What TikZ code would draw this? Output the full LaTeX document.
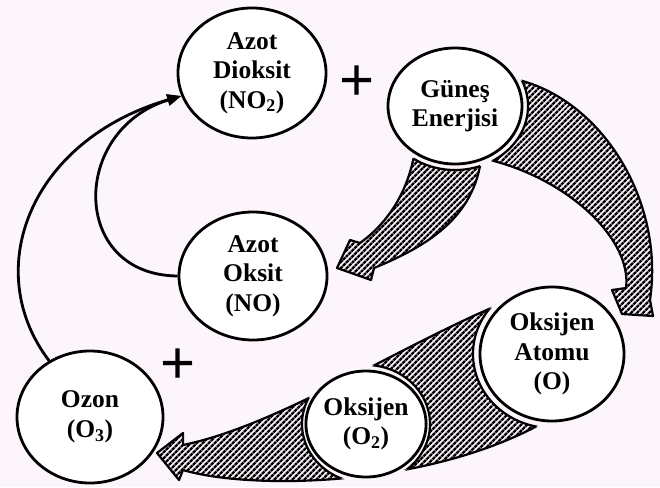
\documentclass[tikz,border=0pt]{standalone}
\usepackage{fontspec}
\setmainfont{Liberation Serif}
\newfontfamily\plusfont{Liberation Sans}
\usetikzlibrary{
	shapes.geometric,
	arrows.meta,
	patterns.meta
}
\definecolor{paper}{RGB}{252,245,252}
\pgfdeclarelayer{back}
\pgfsetlayers{back,main}

\newcommand\sunnoarrow{(gunes.center) -- (415,150) .. controls (408,195) and (385,225) .. (360,243) -- (350,240) -- (337,268) -- (371,280) -- (374,268) .. controls (430,245) and (478,215) .. (482,150) -- cycle}
\newcommand\sunoarrow{(gunes.center) -- (510,78) .. controls (600,95) and (665,200) .. (650,300) -- (653,316) -- (622,314) -- (612,290) -- (626,288) .. controls (632,240) and (570,180) .. (490,160) -- cycle}
\newcommand\oozonarrow{(oatom.center) -- (510,300) .. controls (400,345) and (280,425) .. (183,445) -- (183,433) -- (157,453) -- (179,480) -- (183,470) .. controls (250,490) and (430,488) .. (548,420) -- cycle}

\tikzset{
	molecule/.style={draw,ellipse,fill=white,line width=2.8pt,inner sep=0pt,align=center,
		font=\fontsize{25.5}{29.5}\selectfont\bfseries},
	hatch/.style={draw,line width=2.2pt,line join=round,
		pattern={Lines[angle=45,distance=4pt,line width=2.6pt]}},
	rim/.style={draw,line width=2.2pt},
	react/.style={line width=2.8pt,-{Triangle[length=14pt,width=11pt]}},
	plus/.style={font=\plusfont\fontsize{60}{60}\selectfont,inner sep=0pt}
}

\begin{document}
\begin{tikzpicture}[x=1pt,y=-1pt]
    \useasboundingbox (0,0) rectangle (660,487);
    \draw
        node [molecule,minimum width=148pt,minimum height=130pt] (no2) at (252,73) {Azot\\Dioksit\\(NO\textsubscript{2})}
        node [molecule,minimum width=134pt,minimum height=116pt] (gunes) at (455,106) {Güneş\\Enerjisi}
        node [molecule,minimum width=148pt,minimum height=128pt] (no) at (253,276) {Azot\\Oksit\\(NO)}
        node [molecule,minimum width=144pt,minimum height=134pt] (oatom) at (552,354) {Oksijen\\Atomu\\(O)}
        node [molecule,minimum width=116pt,minimum height=106pt] (o2) at (366,424) {Oksijen\\(O\textsubscript{2})}
        node [molecule,minimum width=146pt,minimum height=132pt] (ozon) at (90,417) {Ozon\\(O\textsubscript{3})}
        node [plus] (plus1) at (357,83) {+}
        node [plus] (plus2) at (178,366) {+}
    ;

    \draw[react] (ozon.126) .. controls (-20,270) and (30,140) .. (no2.198);
    \draw[react] (no.west) .. controls (70,275) and (70,130) .. (no2.198);

    \begin{pgfonlayer}{back}
        \fill[paper] (0,0) rectangle (660,487);
        \path[hatch] \sunnoarrow;
        \path[hatch] \sunoarrow;
        \path[hatch] \oozonarrow;
        \fill[paper] (gunes.center) ellipse [x radius=73pt,y radius=64pt];
        \fill[paper] (oatom.center) ellipse [x radius=79pt,y radius=74pt];
        \fill[paper] (o2.center) ellipse [x radius=64pt,y radius=59pt];
        \begin{scope}
            \clip \sunnoarrow;
            \draw[rim] (gunes.center) ellipse [x radius=73pt,y radius=64pt];
        \end{scope}
        \begin{scope}
            \clip \sunoarrow;
            \draw[rim] (gunes.center) ellipse [x radius=73pt,y radius=64pt];
        \end{scope}
        \begin{scope}
            \clip \oozonarrow;
            \draw[rim] (oatom.center) ellipse [x radius=79pt,y radius=74pt];
            \draw[rim] (o2.center) ellipse [x radius=64pt,y radius=59pt];
        \end{scope}
    \end{pgfonlayer}
\end{tikzpicture}
\end{document}
